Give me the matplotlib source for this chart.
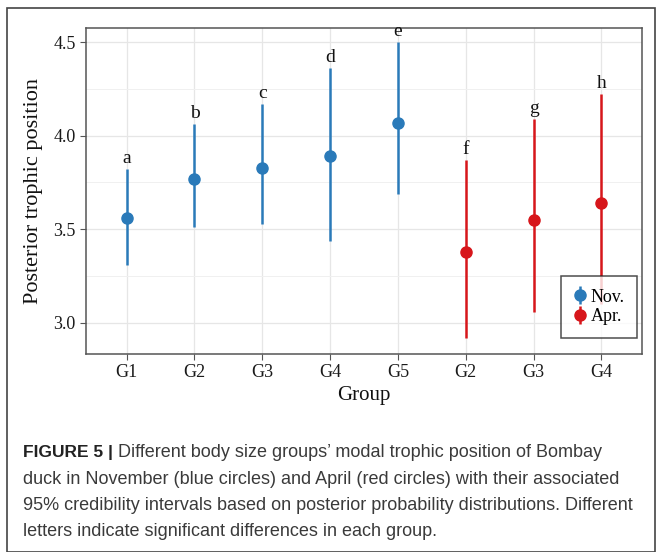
import matplotlib.pyplot as plt
from matplotlib.patches import Rectangle

groups = ["G1", "G2", "G3", "G4", "G5", "G2", "G3", "G4"]
nov_mode = [3.56, 3.77, 3.83, 3.89, 4.07]
nov_low = [3.31, 3.51, 3.53, 3.44, 3.69]
nov_high = [3.82, 4.06, 4.17, 4.36, 4.50]
apr_mode = [3.38, 3.55, 3.64]
apr_low = [2.92, 3.06, 3.10]
apr_high = [3.87, 4.09, 4.22]
letters = ["a", "b", "c", "d", "e", "f", "g", "h"]

blue = "#2a7ab9"
red = "#d7161b"
serif = "Liberation Serif"

fig = plt.figure(figsize=(6.57, 5.52), dpi=100)
fig.patches.append(Rectangle((7 / 657, 0), 648 / 657, 1 - 8 / 552, transform=fig.transFigure,
                             fill=False, edgecolor="#444444", linewidth=1.2))

ax = fig.add_axes([86 / 657, 1 - 354 / 552, 556 / 657, 326 / 552])

x_nov = list(range(5))
x_apr = list(range(5, 8))

ax.errorbar(x_nov, nov_mode,
            yerr=[[m - l for m, l in zip(nov_mode, nov_low)], [h - m for m, h in zip(nov_mode, nov_high)]],
            fmt="o", color=blue, ecolor=blue, elinewidth=1.8, markersize=8, capsize=0,
            label="Nov.", zorder=3)
ax.errorbar(x_apr, apr_mode,
            yerr=[[m - l for m, l in zip(apr_mode, apr_low)], [h - m for m, h in zip(apr_mode, apr_high)]],
            fmt="o", color=red, ecolor=red, elinewidth=1.8, markersize=8, capsize=0,
            label="Apr.", zorder=3)

highs = nov_high + apr_high
for i, (lt, h) in enumerate(zip(letters, highs)):
    ax.text(i, h + 0.012, lt, ha="center", va="bottom", fontsize=14, family=serif, color="#111111")

ax.set_xlim(-0.6, 7.6)
ax.set_ylim(2.834, 4.575)
ax.set_xticks(range(8))
ax.set_xticklabels(groups)
ax.set_yticks([3.0, 3.5, 4.0, 4.5])
ax.set_yticklabels(["3.0", "3.5", "4.0", "4.5"])
ax.set_yticks([3.25, 3.75, 4.25], minor=True)
ax.grid(True, which="major", color="#e6e6e6", linewidth=0.9, zorder=0)
ax.grid(True, which="minor", axis="y", color="#f0f0f0", linewidth=0.7, zorder=0)
ax.set_axisbelow(True)
for s in ax.spines.values():
    s.set_color("#555555")
    s.set_linewidth(1.1)
ax.tick_params(which="major", length=4, color="#555555", labelsize=13, labelcolor="#1a1a1a")
ax.tick_params(which="minor", length=0)
for lab in ax.get_xticklabels() + ax.get_yticklabels():
    lab.set_family(serif)

ax.set_xlabel("Group", fontsize=15, family=serif, labelpad=3, color="#111111")
ax.set_ylabel("Posterior trophic position", fontsize=16, family=serif, labelpad=7, color="#111111")

leg = ax.legend(loc="lower right", bbox_to_anchor=(0.991, 0.049), frameon=True, fancybox=False,
                prop={"family": serif, "size": 13}, handlelength=0.6,
                handletextpad=0.3, borderpad=0.7, labelspacing=0.15, borderaxespad=0)
leg.get_frame().set_edgecolor("#222222")
leg.get_frame().set_linewidth(1.1)

caption = [
    "Different body size groups\u2019 modal trophic position of Bombay",
    "duck in November (blue circles) and April (red circles) with their associated",
    "95% credibility intervals based on posterior probability distributions. Different",
    "letters indicate significant differences in each group.",
]
cfam = "Liberation Sans"
y0 = 1 - 457 / 552
t = fig.text(23 / 657, y0, "FIGURE 5 | ", fontsize=12.5, weight="bold", family=cfam, color="#222222")
fig.canvas.draw()
bb = t.get_window_extent()
fig.text(bb.x1 / 657, y0, caption[0], fontsize=13, family=cfam, color="#3a3a3a")
for k, line in enumerate(caption[1:], start=1):
    fig.text(23 / 657, y0 - k * 26.5 / 552, line, fontsize=13, family=cfam, color="#3a3a3a")

fig.savefig("out.png", dpi=100)
